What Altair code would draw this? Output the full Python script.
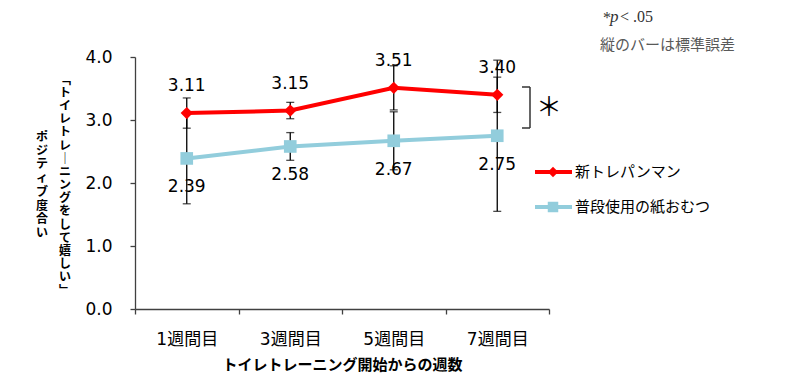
import altair as alt
import pandas as pd

weeks = ["1週間目", "3週間目", "5週間目", "7週間目"]
series = ["新トレパンマン", "普段使用の紙おむつ"]
red_means = [3.11, 3.15, 3.51, 3.40]
blue_means = [2.39, 2.58, 2.67, 2.75]
red_err = [0.24, 0.13, 0.35, 0.28]
blue_err = [0.72, 0.22, 0.46, 1.20]
y_ticks = [0.0, 1.0, 2.0, 3.0, 4.0]
x_title = "トイレトレーニング開始からの週数"
y_title_1 = "「トイレトレーニングをして嬉しい」"
y_title_2 = "ポジティブ度合い"
note_err = "縦のバーは標準誤差"
sig_star = "*"
sig_p = "p"
sig_rest = "< .05"
big_star = "＊"

RED = "#FF0000"
BLUE = "#92CDDC"
colors = [RED, BLUE]
shapes = ["diamond", "square"]
CJK = "Noto Sans CJK JP"
NUM = "DejaVu Sans, Noto Sans CJK JP"

rows = []
for s, means, errs in [(series[0], red_means, red_err), (series[1], blue_means, blue_err)]:
    for w, m, e in zip(weeks, means, errs):
        rows.append({"series": s, "week": w, "mean": m, "lo": round(m - e, 3), "hi": round(m + e, 3)})
df = pd.DataFrame(rows)

yscale = alt.Scale(domain=[0, 4], nice=False, zero=True)
yaxis = alt.Axis(title=None, values=y_ticks, format=".1f", grid=False, tickSize=5,
                 labelPadding=18, labelFontSize=17, labelFont=NUM, labelColor="#000",
                 domainColor="#404040", tickColor="#404040", domainWidth=1.3, tickWidth=1.3)
xenc = alt.X("week:N", sort=weeks,
             scale=alt.Scale(type="band", domain=weeks, paddingInner=0, paddingOuter=0),
             axis=alt.Axis(title=x_title, labelAngle=0, tickBand="extent", tickSize=5,
                           labelPadding=17, titlePadding=10, labelFont=NUM, labelFontSize=17,
                           labelColor="#000", titleFont=CJK, titleFontSize=15,
                           titleFontWeight="bold", titleColor="#000",
                           domainColor="#404040", tickColor="#404040",
                           domainWidth=1.3, tickWidth=1.3, grid=False))
color = alt.Color("series:N", scale=alt.Scale(domain=series, range=colors), legend=None)

base = alt.Chart(df)
err_rule = base.mark_rule(color="#000", strokeWidth=1.3).encode(
    x=xenc, y=alt.Y("lo:Q", scale=yscale, axis=yaxis), y2="hi:Q")
err_lo = base.mark_tick(color="#000", size=8, thickness=1.3, orient="horizontal").encode(
    x=xenc, y=alt.Y("lo:Q", scale=yscale, axis=yaxis))
err_hi = base.mark_tick(color="#000", size=8, thickness=1.3, orient="horizontal").encode(
    x=xenc, y=alt.Y("hi:Q", scale=yscale, axis=yaxis))
lines = base.mark_line(strokeWidth=4).encode(
    x=xenc, y=alt.Y("mean:Q", scale=yscale, axis=yaxis), color=color, detail="series:N")

layers = [err_rule, err_lo, err_hi, lines]
label_dy = [-27, 29]
marker_size = [150, 160]
for s, c, shp, dy, ms in zip(series, colors, shapes, label_dy, marker_size):
    sub = base.transform_filter(alt.datum.series == s)
    layers.append(sub.mark_point(shape=shp, filled=True, opacity=1, size=ms, color=c).encode(
        x=xenc, y=alt.Y("mean:Q", scale=yscale, axis=yaxis)))
    layers.append(sub.mark_text(dy=dy, fontSize=17, font=NUM, color="#000").encode(
        x=xenc, y=alt.Y("mean:Q", scale=yscale, axis=yaxis), text=alt.Text("mean:Q", format=".2f")))

one = alt.Chart(pd.DataFrame({"k": [0]}))
vert = {"「": "﹁", "」": "﹂", "ー": "｜"}
col1 = [vert.get(ch, ch) for ch in y_title_1]
col2 = [vert.get(ch, ch) for ch in y_title_2]
# multi-line text: y is the first line's centre
layers.append(one.mark_text(text=col1, font=CJK, fontSize=12, fontWeight="bold", lineHeight=13.2,
                            align="center", baseline="middle", color="#000").encode(
    x=alt.value(-70), y=alt.value(22.5)))
layers.append(one.mark_text(text=col2, font=CJK, fontSize=12, fontWeight="bold", lineHeight=13.7,
                            align="center", baseline="middle", color="#000").encode(
    x=alt.value(-93), y=alt.value(80)))

# legend
for i, (s, c, shp) in enumerate(zip(series, colors, shapes)):
    yv = 115 + 35 * i
    ld = alt.Chart(pd.DataFrame({"series": [s]}))
    layers.append(ld.mark_rule(color=c, strokeWidth=4).encode(
        x=alt.value(400), x2=alt.value(437), y=alt.value(yv)))
    layers.append(ld.mark_point(shape=shp, filled=True, opacity=1, size=110, color=c).encode(
        x=alt.value(418), y=alt.value(yv)))
    layers.append(ld.mark_text(align="left", baseline="middle", font=CJK, fontSize=15, color="#000").encode(
        x=alt.value(440), y=alt.value(yv), text="series:N"))

# significance bracket
layers.append(one.mark_rule(color="#333", strokeWidth=1.5).encode(
    x=alt.value(395), y=alt.value(30), y2=alt.value(71)))
layers.append(one.mark_rule(color="#333", strokeWidth=1.5).encode(
    x=alt.value(387), x2=alt.value(395), y=alt.value(30)))
layers.append(one.mark_rule(color="#333", strokeWidth=1.5).encode(
    x=alt.value(387), x2=alt.value(395), y=alt.value(71)))
layers.append(one.mark_text(text=big_star, font=CJK, fontSize=26, align="center", baseline="middle",
                            color="#000").encode(x=alt.value(414), y=alt.value(51)))

# notes
layers.append(one.mark_text(text=sig_star, font="Liberation Serif", fontSize=16, align="left",
                            baseline="middle", color="#333").encode(x=alt.value(468), y=alt.value(-39)))
layers.append(one.mark_text(text=sig_p, font="Liberation Serif", fontSize=17, fontStyle="italic",
                            align="left", baseline="middle", color="#333").encode(x=alt.value(475), y=alt.value(-40)))
layers.append(one.mark_text(text=sig_rest, font="Liberation Serif", fontSize=16, align="left",
                            baseline="middle", color="#333").encode(x=alt.value(485), y=alt.value(-40)))
layers.append(one.mark_text(text=note_err, font=CJK, fontSize=15, align="left", baseline="middle",
                            color="#595959").encode(x=alt.value(465), y=alt.value(-12)))

chart = alt.layer(*layers).properties(
    width=414, height=252,
    autosize=alt.AutoSizeParams(type="none"),
    padding={"left": 127, "top": 49, "right": 240, "bottom": 65},
).configure_view(stroke=None)

chart.save("out.html", embed_options={"renderer": "svg", "actions": False})
